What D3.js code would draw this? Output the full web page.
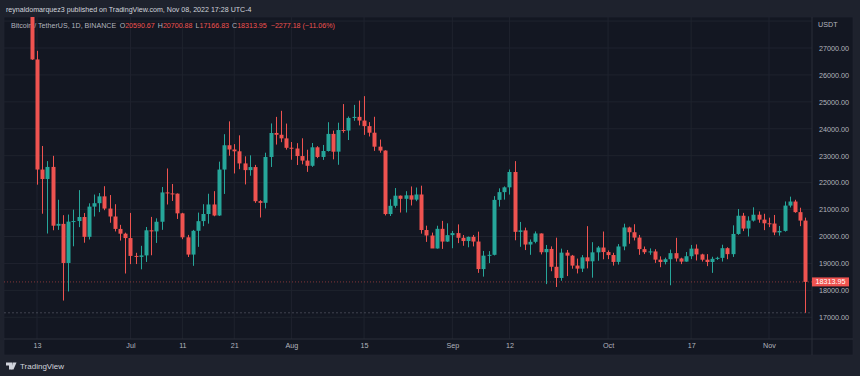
<!DOCTYPE html>
<html>
<head>
<meta charset="utf-8">
<script src="https://cdn.jsdelivr.net/npm/d3@7"></script>
<style>
body { margin: 0; background: #1e222d; }
svg { display: block; font-family: "Liberation Sans", Arial, sans-serif; }
</style>
</head>
<body>
<div id="chart"></div>
<script>
// BTCUSDT daily candles, 2022-06-12 .. 2022-11-08
var firstDay = "2022-06-12";

var openPrices = [
  28403, 26575, 22486, 22136, 22584, 20401, 20469, 19017, 20553, 20574, 20724, 19988, 21110, 21237, 21491, 21038, 20743, 20282, 20105,
  19942, 19279, 19243, 19298, 20231, 20190, 20548, 21637, 21600, 21592, 20860, 19970, 19329, 20212, 20573, 20836, 21190, 20780, 22486, 23389, 23231, 23164, 22714, 22466, 22579, 21311, 21251, 22953, 23845, 23778, 23644,
  23297, 23268, 22988, 22819, 22626, 23313, 22954, 23175, 23810, 23151, 23954, 23934, 24402, 24443, 24306, 24099, 23855, 23337, 23192, 20834, 21140, 21517, 21400, 21530, 21369, 21560, 20241, 20037, 19555, 20285, 19812,
  20050, 20127, 19953, 19832, 19988, 19813, 18791, 19290, 19320, 21361, 21648, 21826, 22396, 20173, 20227, 19702, 19803, 20113, 19417, 19538, 18876, 18461, 19401, 19289, 18921, 18807, 19227, 19079, 19412, 19591,
  19422, 19312, 19057, 19630, 20336, 20159, 19961, 19531, 19417, 19446, 19141, 19052, 19157, 19382, 19185, 19068, 19268, 19550, 19335, 19139, 19053, 19172, 19207, 19567, 19345, 20095, 20772, 20296, 20591, 20809, 20627,
  20491, 20482, 20152, 20208, 21148, 21299, 20905, 20591
];
var highPrices = [
  28576, 26895, 23362, 22800, 22995, 21365, 20792, 20815, 20998, 21723, 20872, 21233, 21558, 21614, 21868, 21540, 21200, 20433, 20142,
  20876, 19395, 19654, 20354, 20728, 20675, 21838, 22527, 21950, 21600, 20880, 20059, 20245, 20888, 21200, 21588, 21684, 22780, 23800, 24276, 23431, 23757, 22977, 23014, 22659, 21350, 23112, 24199, 24442, 24668, 24194,
  23509, 23466, 23647, 23223, 23472, 23354, 23400, 24245, 23933, 24226, 24918, 24456, 24888, 25047, 25212, 24247, 24446, 23600, 23203, 21382, 21800, 21522, 21684, 21859, 21819, 21887, 20402, 20145, 20400, 20580, 20490,
  20208, 20450, 20055, 20000, 20057, 20180, 19464, 19457, 21500, 21789, 21861, 22489, 22799, 20541, 20330, 19890, 20189, 20114, 19686, 19634, 19956, 19550, 19500, 19316, 19180, 19310, 20385, 19790, 19645, 20185,
  19484, 19395, 19719, 20475, 20365, 20456, 20058, 19628, 19559, 19527, 19264, 19214, 19513, 19951, 19212, 19424, 19687, 19706, 19360, 19346, 19248, 19248, 19695, 19601, 20415, 21020, 20877, 20750, 21085, 20931, 20845,
  20700, 20800, 20393, 21302, 21480, 21365, 21069, 20701
];
var lowPrices = [
  26560, 21925, 20846, 20111, 20232, 20246, 17622, 17960, 19637, 20348, 19770, 19890, 20741, 20906, 20978, 20510, 20188, 19849, 18626,
  18975, 18977, 18781, 19055, 19304, 19761, 20248, 21189, 21320, 20652, 19901, 19239, 18911, 19616, 20384, 20478, 20752, 20763, 21581, 23000, 22341, 22500, 21934, 22257, 21250, 20706, 21042, 22582, 23414, 23502, 23227,
  22850, 22655, 22681, 22400, 22586, 22909, 22844, 23154, 22865, 22664, 23852, 23583, 24296, 24126, 23773, 23714, 23180, 23111, 20783, 20761, 21069, 20890, 20891, 21153, 21312, 20107, 19800, 19600, 19550, 19540, 19800,
  19565, 19755, 19655, 19600, 19633, 18650, 18510, 19011, 19297, 21111, 21370, 21557, 19860, 19617, 19497, 19320, 19748, 19335, 18232, 18711, 18126, 18356, 18531, 18805, 18629, 18680, 18816, 18471, 19101, 19155,
  19159, 18920, 18959, 19490, 19730, 19854, 19320, 19347, 19320, 19020, 18860, 18965, 18190, 19070, 18975, 19063, 19160, 19110, 19070, 18900, 18650, 19132, 19069, 19157, 19242, 20062, 20200, 20000, 20554, 20512, 20237,
  20348, 20049, 20031, 20180, 21079, 20880, 20384, 17167
];
var closePrices = [
  26575, 22487, 22136, 22583, 20401, 20469, 19017, 20553, 20574, 20724, 19988, 21110, 21237, 21491, 21038, 20743, 20282, 20105, 19942,
  19279, 19243, 19297, 20231, 20190, 20548, 21637, 21600, 21592, 20860, 19970, 19329, 20212, 20570, 20836, 21190, 20779, 22486, 23389, 23231, 23164, 22714, 22466, 22579, 21311, 21251, 22953, 23844, 23778, 23644, 23293,
  23268, 22988, 22819, 22626, 23313, 22954, 23175, 23810, 23149, 23954, 23935, 24403, 24442, 24306, 24099, 23855, 23336, 23191, 20834, 21140, 21516, 21400, 21530, 21369, 21560, 20241, 20038, 19555, 20285, 19812, 20050,
  20127, 19952, 19832, 19987, 19813, 18791, 19290, 19320, 21360, 21648, 21826, 22396, 20173, 20227, 19702, 19803, 20114, 19416, 19538, 18876, 18461, 19401, 19289, 18920, 18807, 19227, 19079, 19412, 19591, 19423,
  19310, 19056, 19630, 20337, 20158, 19960, 19531, 19417, 19446, 19141, 19052, 19157, 19382, 19185, 19067, 19268, 19550, 19334, 19139, 19053, 19172, 19208, 19567, 19345, 20095, 20771, 20295, 20591, 20809, 20627, 20491,
  20483, 20151, 20207, 21148, 21299, 20905, 20591, 18313.95
];

var priceTicks = [17000, 18000, 19000, 20000, 21000, 22000, 23000, 24000, 25000, 26000, 27000];
var timeTicks = ["2022-06-13", "2022-07-01", "2022-07-11", "2022-07-21", "2022-08-01", "2022-08-15",
                 "2022-09-01", "2022-09-12", "2022-10-01", "2022-10-17", "2022-11-01"];
var timeTickLabels = ["13", "Jul", "11", "21", "Aug", "15", "Sep", "12", "Oct", "17", "Nov"];

var lastClose = 18313.95;
var lastLow = 17166.83;

//==========================================================
var width = 860, height = 376;
var panel = { left: 4, top: 17, right: 853, bottom: 355 };
var plotRight = 812, plotBottom = 339;

var upColor = "#26a69a", downColor = "#ef5350";
var gridColor = "#1f232e", textColor = "#b2b5be";

var parse = d3.utcParse("%Y-%m-%d");
var start = parse(firstDay);
var days = d3.utcDay.range(start, d3.utcDay.offset(start, openPrices.length));

var candles = days.map(function (d, i) {
    return { date: d, open: openPrices[i], high: highPrices[i], low: lowPrices[i], close: closePrices[i] };
});

var tickDates = timeTicks.map(parse);

var xScale = d3.scaleUtc()
    .domain([tickDates[0], tickDates[tickDates.length - 1]])
    .range([37, 769]);

var yScale = d3.scaleLinear()
    .domain([17000, 27000])
    .range([317.3, 48]);

var svg = d3.select("#chart").append("svg")
    .attr("width", width)
    .attr("height", height);

svg.append("rect").attr("width", width).attr("height", height).attr("fill", "#1e222d");

// header line
svg.append("text")
    .attr("x", 6).attr("y", 11.5)
    .attr("fill", "#d1d4dc")
    .style("font-size", "7.1px")
    .text("reynaldomarquez3 published on TradingView.com, Nov 08, 2022 17:28 UTC-4");

// chart panel
svg.append("rect")
    .attr("x", panel.left).attr("y", panel.top)
    .attr("width", panel.right - panel.left).attr("height", panel.bottom - panel.top)
    .attr("fill", "#131722")
    .attr("stroke", "#232733").attr("stroke-width", 0.6);

svg.append("defs").append("clipPath").attr("id", "plotClip")
    .append("rect")
    .attr("x", panel.left).attr("y", panel.top)
    .attr("width", plotRight - panel.left).attr("height", plotBottom - panel.top);

// grid
var grid = svg.append("g").attr("clip-path", "url(#plotClip)");
grid.selectAll(".hgrid")
    .data(priceTicks.concat([28000]))
    .enter()
    .append("line")
    .attr("x1", panel.left).attr("x2", plotRight)
    .attr("y1", function (d) { return yScale(d); })
    .attr("y2", function (d) { return yScale(d); })
    .attr("stroke", gridColor).attr("stroke-width", 1);
grid.selectAll(".vgrid")
    .data(tickDates)
    .enter()
    .append("line")
    .attr("x1", function (d) { return xScale(d); })
    .attr("x2", function (d) { return xScale(d); })
    .attr("y1", panel.top).attr("y2", plotBottom)
    .attr("stroke", gridColor).attr("stroke-width", 1);

// axis separators
svg.append("line")
    .attr("x1", panel.left).attr("x2", panel.right)
    .attr("y1", plotBottom).attr("y2", plotBottom)
    .attr("stroke", "#2a2e39");
svg.append("line")
    .attr("x1", plotRight).attr("x2", plotRight)
    .attr("y1", panel.top).attr("y2", panel.bottom)
    .attr("stroke", "#2a2e39");

// legend
var legend = svg.append("text")
    .attr("x", 11).attr("y", 27.5)
    .style("font-size", "7.1px")
    .attr("fill", textColor);
legend.append("tspan").text("Bitcoin / TetherUS, 1D, BINANCE");
[["O", "20590.67"], ["H", "20700.88"], ["L", "17166.83"], ["C", "18313.95"]].forEach(function (p, i) {
    legend.append("tspan").attr("dx", i == 0 ? 3.5 : 3).text(p[0]);
    legend.append("tspan").attr("fill", downColor).text(p[1]);
});
legend.append("tspan").attr("dx", 4).attr("fill", downColor).text("\u22122277.18 (\u221211.06%)");

// price lines
var lines = svg.append("g").attr("clip-path", "url(#plotClip)");
lines.append("line")
    .attr("x1", panel.left).attr("x2", plotRight)
    .attr("y1", yScale(lastClose)).attr("y2", yScale(lastClose))
    .attr("stroke", downColor).attr("stroke-opacity", 0.5)
    .attr("stroke-dasharray", "1,2");
lines.append("line")
    .attr("x1", panel.left).attr("x2", plotRight)
    .attr("y1", yScale(lastLow)).attr("y2", yScale(lastLow))
    .attr("stroke", "#787b86").attr("stroke-opacity", 0.45)
    .attr("stroke-dasharray", "2,2");

// candles
var barWidth = 4;
var g = svg.append("g").attr("clip-path", "url(#plotClip)");
var candle = g.selectAll(".candle")
    .data(candles)
    .enter()
    .append("g")
    .attr("fill", function (d) { return d.close >= d.open ? upColor : downColor; })
    .attr("stroke", function (d) { return d.close >= d.open ? upColor : downColor; });

candle.append("line")
    .attr("x1", function (d) { return Math.round(xScale(d.date)) + 0.5; })
    .attr("x2", function (d) { return Math.round(xScale(d.date)) + 0.5; })
    .attr("y1", function (d) { return yScale(d.high); })
    .attr("y2", function (d) { return yScale(d.low); })
    .attr("stroke-width", 1);

candle.append("rect")
    .attr("x", function (d) { return Math.round(xScale(d.date)) + 0.5 - barWidth / 2; })
    .attr("y", function (d) { return yScale(Math.max(d.open, d.close)); })
    .attr("width", barWidth)
    .attr("height", function (d) { return Math.max(1, yScale(Math.min(d.open, d.close)) - yScale(Math.max(d.open, d.close))); })
    .attr("stroke", "none");

// price axis
var axisRight = d3.axisRight(yScale)
    .tickValues(priceTicks)
    .tickSize(0)
    .tickPadding(7)
    .tickFormat(d3.format(".2f"));
var yAxisG = svg.append("g")
    .attr("transform", "translate(" + plotRight + ",0)")
    .call(axisRight);
yAxisG.select(".domain").remove();
yAxisG.selectAll("text").attr("fill", textColor).style("font-size", "7.2px").style("font-family", "Liberation Sans, Arial, sans-serif");

svg.append("text")
    .attr("x", 818).attr("y", 27)
    .attr("fill", textColor)
    .style("font-size", "7.2px")
    .text("USDT");

// last price label
svg.append("rect")
    .attr("x", plotRight).attr("y", yScale(lastClose) - 4.5)
    .attr("width", 37).attr("height", 9)
    .attr("fill", downColor);
svg.append("text")
    .attr("x", plotRight + 18.5).attr("y", yScale(lastClose))
    .attr("dy", "0.35em")
    .attr("text-anchor", "middle")
    .attr("fill", "#ffffff")
    .style("font-size", "7.2px")
    .text(d3.format(".2f")(lastClose));

// time axis
var axisBottom = d3.axisBottom(xScale)
    .tickValues(tickDates)
    .tickSize(0)
    .tickPadding(4)
    .tickFormat(function (d, i) { return timeTickLabels[i]; });
var xAxisG = svg.append("g")
    .attr("transform", "translate(0," + plotBottom + ")")
    .call(axisBottom);
xAxisG.select(".domain").remove();
xAxisG.selectAll("text").attr("fill", textColor).style("font-size", "7.2px").style("font-family", "Liberation Sans, Arial, sans-serif");

// TradingView mark
var logo = svg.append("g").attr("transform", "translate(6,362.5)").attr("fill", "#d1d4dc");
logo.append("path").attr("d", "M0,0 H6 V7 H3 V3 H0 Z");
logo.append("path").attr("d", "M6.5,0 H10.5 L7.5,7 H5.5 Z");
svg.append("text")
    .attr("x", 20).attr("y", 369)
    .attr("fill", "#d1d4dc")
    .style("font-size", "8px")
    .text("TradingView");
</script>
</body>
</html>
